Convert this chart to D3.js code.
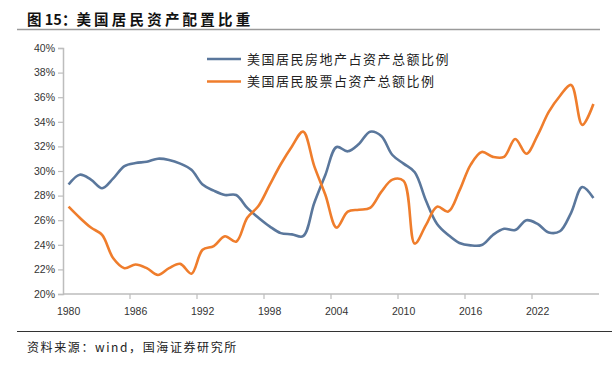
<!DOCTYPE html>
<html lang="zh">
  <head>
    <meta charset="utf-8">
    <title>美国居民资产配置比重</title>
    <style>
     body { margin: 0; background: #fff; }
     svg { display: block; font-family: "Liberation Sans", Arial, sans-serif; }
     .cjk { font-family: "Noto Sans CJK SC", sans-serif; }
    </style>
  </head>
  <body>
    <div id="chart"></div>
  </body>
  <script src="https://d3js.org/d3.v7.min.js"></script>
  <script>
   // categories: one band per point along the x axis
   var years = d3.range(1980, 2028);
   var xTickLabels = [1980, 1986, 1992, 1998, 2004, 2010, 2016, 2022];
   var yTicks = [20, 22, 24, 26, 28, 30, 32, 34, 36, 38, 40];

   // 美国居民房地产占资产总额比例 (%)
   var housing = [28.9, 29.7, 29.3, 28.6, 29.4, 30.4, 30.65, 30.75, 31.0, 30.9,
                  30.6, 30.1, 28.9, 28.4, 28.05, 28.05, 27.0, 26.2, 25.5, 24.95,
                  24.85, 24.7, 27.4, 29.7, 31.95, 31.6, 32.2, 33.2, 32.85, 31.3,
                  30.6, 29.9, 27.6, 25.7, 24.8, 24.15, 23.95, 23.98, 24.8, 25.3,
                  25.2, 26.0, 25.7, 25.0, 25.1, 26.6, 28.7, 27.8];
   // 美国居民股票占资产总额比例 (%)
   var equity = [27.1, 26.2, 25.4, 24.8, 22.9, 22.1, 22.4, 22.1, 21.55, 22.1,
                 22.45, 21.65, 23.6, 23.9, 24.7, 24.25, 26.2, 27.15, 28.85, 30.55,
                 32.0, 33.2, 30.4, 28.05, 25.4, 26.7, 26.85, 27.0, 28.3, 29.3,
                 29.2, 24.1, 25.6, 27.1, 26.7, 28.4, 30.5, 31.55, 31.15, 31.15,
                 32.6, 31.4, 32.9, 34.8, 36.1, 37.0, 33.75, 35.45];

   var seriesNames = ["美国居民房地产占资产总额比例", "美国居民股票占资产总额比例"];
   var seriesColors = ["#5a779c", "#ef7d2c"];

   var width = 614, height = 366;
   var svg = d3.select("#chart").append("svg")
               .attr("width", width).attr("height", height);

   // title and rules
   var title = svg.append("text").attr("class", "cjk")
      .attr("x", 27).attr("y", 25)
      .attr("font-size", 14.5).attr("font-weight", "bold").attr("fill", "#111");
   title.append("tspan").text("图 15：");
   title.append("tspan").attr("letter-spacing", 3.2).text("美国居民资产配置比重");
   svg.append("line").attr("x1", 17).attr("x2", 600).attr("y1", 29.5).attr("y2", 29.5)
      .attr("stroke", "#9a9a9a").attr("stroke-width", 1.5);
   svg.append("line").attr("x1", 17).attr("x2", 612).attr("y1", 331.5).attr("y2", 331.5)
      .attr("stroke", "#333").attr("stroke-width", 1);
   svg.append("text").attr("class", "cjk")
      .attr("x", 27).attr("y", 352)
      .attr("font-size", 12).attr("fill", "#222").attr("letter-spacing", 1.6)
      .text("资料来源：wind，国海证券研究所");

   var x = d3.scaleBand().domain(years).range([63, 599]).paddingInner(0).paddingOuter(0);
   var y = d3.scaleLinear().domain([20, 40]).range([294, 48]);
   var bw = x.bandwidth();

   // y axis
   var yAxis = svg.append("g").attr("transform", "translate(63,0)")
                  .call(d3.axisLeft(y).tickValues(yTicks).tickSize(5)
                          .tickFormat(function(d) { return d + "%"; }));
   yAxis.select(".domain").attr("stroke", "#bdbdbd").attr("stroke-width", 1.5);
   yAxis.selectAll(".tick line").attr("stroke", "#bdbdbd").attr("stroke-width", 1.2);
   yAxis.selectAll(".tick text").attr("font-size", 10.5).attr("fill", "#333")
        .attr("font-family", "Liberation Sans, Arial, sans-serif").attr("x", -8);

   // x axis: ticks on band edges, labels at band centres
   var xg = svg.append("g").attr("transform", "translate(0,294)");
   xg.append("line").attr("x1", 63).attr("x2", 599).attr("stroke", "#bdbdbd").attr("stroke-width", 1.5);
   xg.selectAll(".xt").data(xTickLabels.slice(1)).enter().append("line")
     .attr("x1", function(d) { return x(d); }).attr("x2", function(d) { return x(d); })
     .attr("y1", 0).attr("y2", 5).attr("stroke", "#bdbdbd").attr("stroke-width", 1.2);
   xg.selectAll(".xl").data(xTickLabels).enter().append("text")
     .attr("x", function(d) { return x(d) + bw / 2; }).attr("y", 21)
     .attr("text-anchor", "middle").attr("font-size", 10.5).attr("fill", "#333")
     .text(function(d) { return d; });

   // lines
   var line = d3.line()
                .x(function(d, i) { return x(years[i]) + bw / 2; })
                .y(function(d) { return y(d); })
                .curve(d3.curveCatmullRom.alpha(0.5));

   [housing, equity].forEach(function(s, k) {
     svg.append("path").datum(s)
        .attr("fill", "none").attr("stroke", seriesColors[k])
        .attr("stroke-width", 2.6).attr("stroke-linejoin", "round")
        .attr("d", line);
   });

   // legend
   var leg = svg.append("g");
   seriesNames.forEach(function(n, k) {
     var ly = 59 + k * 22.5;
     leg.append("line").attr("x1", 207).attr("x2", 241).attr("y1", ly).attr("y2", ly)
        .attr("stroke", seriesColors[k]).attr("stroke-width", 2.6);
     leg.append("text").attr("class", "cjk")
        .attr("x", 247).attr("y", ly).attr("dy", "0.36em")
        .attr("font-size", 13).attr("fill", "#222")
        .attr("letter-spacing", 1.5)
        .text(n);
   });
  </script>
</html>
